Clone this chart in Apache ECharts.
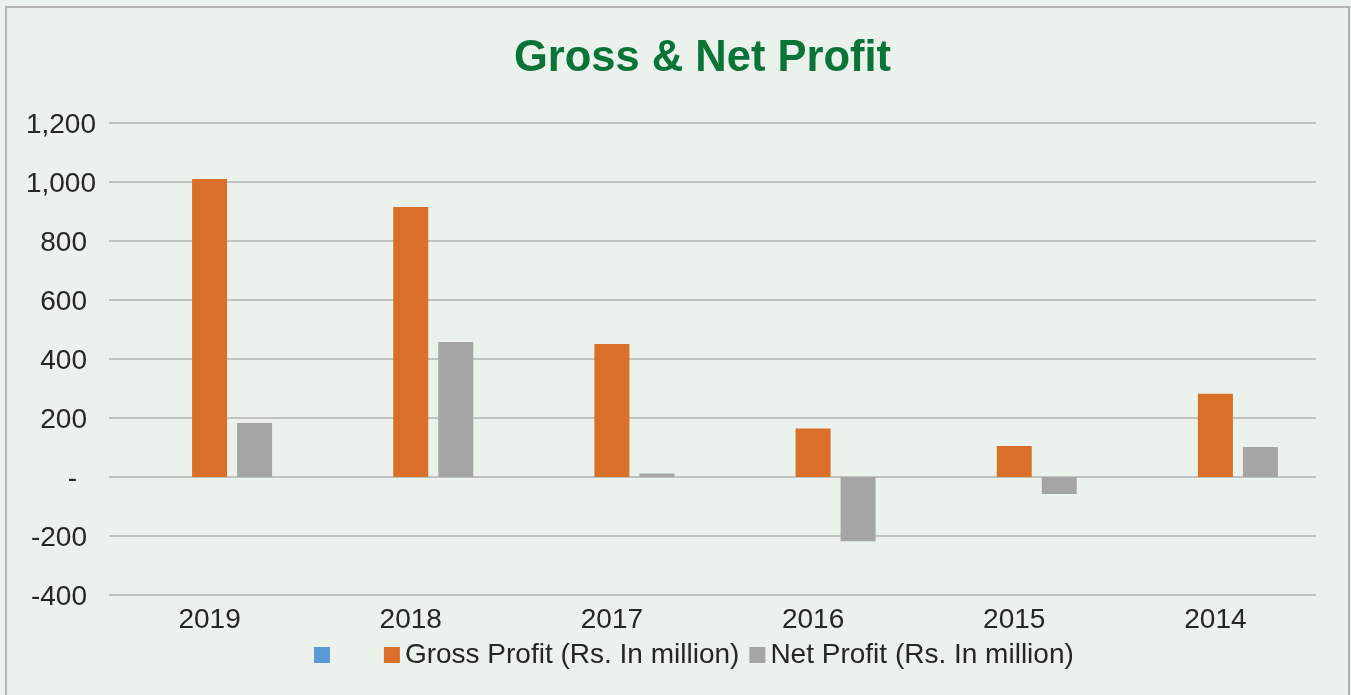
<!DOCTYPE html>
<html>
<head>
<meta charset="utf-8">
<title>Gross & Net Profit</title>
<script src="https://cdn.jsdelivr.net/npm/echarts@6/dist/echarts.min.js"></script>
<style>
    html, body {
        margin: 0;
        padding: 0;
        background: #eaf2eb;
    }
    #chart {
        width: 1351px;
        height: 695px;
    }
</style>
</head>
<body>
<div id="chart"></div>
<script>
    // data
    var years = ['2019', '2018', '2017', '2016', '2015', '2014'];
    var grossProfit = [1010, 915, 451, 164, 105, 282];
    var netProfit = [183, 458, 12, -218, -58, 102];
    var emptySeries = [null, null, null, null, null, null];
    var yTicks = [-400, -200, 0, 200, 400, 600, 800, 1000, 1200];

    var chart = echarts.init(document.getElementById('chart'));

    // excel accounting style labels: "-" for zero, comma thousands
    function yLabel(v) {
        if (v === 0) return '{z|-}';
        var s = Math.abs(v).toLocaleString('en-US');
        if (v < 0) s = '-' + s;
        return Math.abs(v) >= 1000 ? '{a|' + s + '}' : '{n|' + s + '}';
    }

    var labelColor = '#262626';

    chart.setOption({
        backgroundColor: '#eaf2eb',
        textStyle: {
            fontFamily: 'Arial, "Liberation Sans", sans-serif'
        },
        title: {
            text: 'Gross & Net Profit',
            left: 509,
            top: 32,
            textStyle: {
                color: '#0a7337',
                fontSize: 43.5,
                fontWeight: 'bold',
                fontFamily: 'Arial, "Liberation Sans", sans-serif'
            }
        },
        // outer frame
        graphic: [{
            type: 'rect',
            shape: { x: 6, y: 7, width: 1343, height: 720 },
            style: { fill: null, stroke: '#b3b3b3', lineWidth: 2 },
            silent: true
        }],
        grid: {
            left: 109,
            right: 35,
            top: 123,
            bottom: 100
        },
        legend: {
            left: 309,
            top: 636,
            itemWidth: 16,
            itemHeight: 16,
            itemGap: 10,
            icon: 'rect',
            data: ['     ', 'Gross Profit (Rs. In million)', 'Net Profit (Rs. In million)'],
            textStyle: {
                color: labelColor,
                fontSize: 28,
                fontFamily: 'Arial, "Liberation Sans", sans-serif'
            }
        },
        xAxis: {
            type: 'category',
            data: years,
            axisLine: { show: false },
            axisTick: { show: false },
            axisLabel: {
                color: labelColor,
                fontSize: 28,
                margin: 11
            }
        },
        yAxis: {
            type: 'value',
            min: yTicks[0],
            max: yTicks[yTicks.length - 1],
            interval: 200,
            axisLine: { show: false },
            axisTick: { show: false },
            splitLine: {
                lineStyle: { color: '#b3b3b3', width: 1.5 }
            },
            axisLabel: {
                color: labelColor,
                fontSize: 28,
                margin: 13,
                formatter: yLabel,
                rich: {
                    a: { fontSize: 28, color: labelColor, padding: [5, 0, 0, 0] },
                    n: { fontSize: 28, color: labelColor, padding: [5, 9, 0, 0] },
                    z: { fontSize: 28, color: labelColor, padding: [5, 19, 0, 0] }
                }
            }
        },
        color: ['#5b9bd5', '#da6f29', '#a5a5a5'],
        series: [
            {
                name: '     ',
                type: 'bar',
                data: emptySeries,
                barWidth: 35,
                barGap: '28.6%'
            },
            {
                name: 'Gross Profit (Rs. In million)',
                type: 'bar',
                data: grossProfit,
                barWidth: 35,
                barGap: '28.6%'
            },
            {
                name: 'Net Profit (Rs. In million)',
                type: 'bar',
                data: netProfit,
                barWidth: 35,
                barGap: '28.6%'
            }
        ]
    });
</script>
</body>
</html>
